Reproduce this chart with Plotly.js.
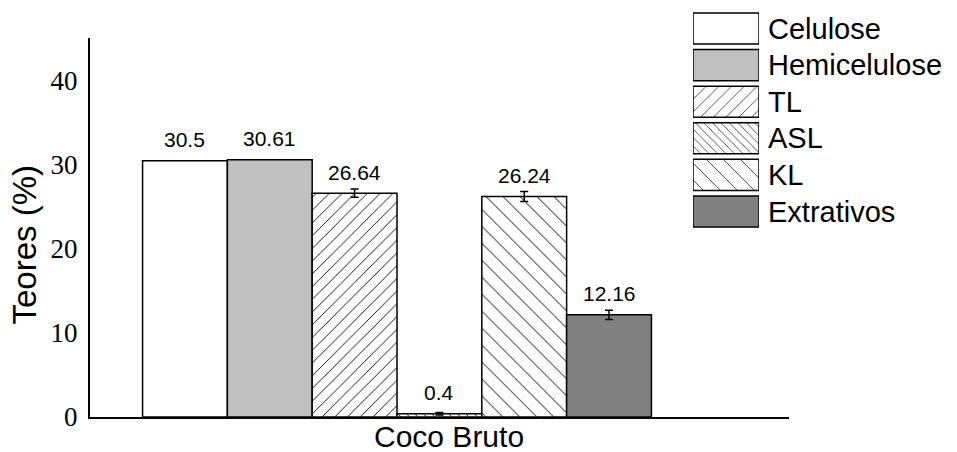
<!DOCTYPE html>
<html>
<head>
<meta charset="utf-8">
<script src="https://cdn.plot.ly/plotly-3.0.1.min.js"></script>
<style>html,body{margin:0;padding:0;background:#fff;}#chart{width:957px;height:452px;}</style>
</head>
<body>
<div id="chart"></div>
<script>
// ---- data ----
const categories = ['Coco Bruto'];
const seriesNames = ['Celulose', 'Hemicelulose', 'TL', 'ASL', 'KL', 'Extrativos'];
const seriesValues = [30.5, 30.61, 26.64, 0.4, 26.24, 12.16];
const seriesErrors = [0, 0, 0.5, 0.15, 0.6, 0.55];
const yTickVals = [0, 10, 20, 30, 40];
const yTickText = ['0', '10', '20', '30', '40'];
const yTitle = 'Teores (%)';

// ---- styles ----
const fillColors = ['#ffffff', '#c0c0c0', '#ffffff', '#ffffff', '#ffffff', '#808080'];
const patShapes = ['', '', '/', '\\', '\\', ''];
const patSizes = [8, 8, 9, 6, 12, 8];
const patSolid = [0.1, 0.1, 0.1, 0.15, 0.08, 0.1];

const sans = 'Liberation Sans, Arial, sans-serif';
const serif = 'Liberation Serif, Times New Roman, serif';

const bargap = 0.272;
const nS = seriesNames.length;
const slot = (1 - bargap) / nS;

const traces = seriesNames.map((name, i) => {
  const t = {
    type: 'bar',
    name: name,
    x: categories,
    y: [seriesValues[i]],
    xaxis: 'x', yaxis: 'y',
    showlegend: false,
    marker: {
      color: fillColors[i],
      line: {color: '#000', width: 1.5},
      pattern: {shape: patShapes[i], size: patSizes[i], solidity: patSolid[i], fgcolor: '#000', fgopacity: 1, bgcolor: fillColors[i], fillmode: 'overlay'}
    },
    hoverinfo: 'name+y'
  };
  if (seriesErrors[i] > 0) {
    t.error_y = {type: 'data', array: [seriesErrors[i]], visible: true, color: '#000', thickness: 1.5, width: 4};
  }
  return t;
});

// legend drawn as a small bar subplot
traces.push({
  type: 'bar',
  orientation: 'h',
  x: seriesNames.map(() => 1),
  y: seriesNames,
  xaxis: 'x2', yaxis: 'y2',
  width: 0.85,
  showlegend: false,
  hoverinfo: 'skip',
  marker: {
    color: fillColors,
    line: {color: '#000', width: 1.5},
    pattern: {shape: patShapes, size: patSizes, solidity: patSolid, fgcolor: '#000', fgopacity: 1, bgcolor: fillColors, fillmode: 'overlay'}
  }
});

const annotations = seriesNames.map((name, i) => ({
  xref: 'x', yref: 'y',
  x: (i - (nS - 1) / 2) * slot,
  y: seriesValues[i],
  text: String(seriesValues[i]),
  showarrow: false,
  yanchor: 'middle',
  yshift: 21,
  font: {family: sans, size: 21, color: '#000'}
}));

// axis titles
annotations.push({
  xref: 'paper', yref: 'paper', x: -0.093, y: 0.4238,
  xanchor: 'center', yanchor: 'middle', textangle: -90,
  text: yTitle, showarrow: false,
  font: {family: sans, size: 33, color: '#000'}
});
annotations.push({
  xref: 'paper', yref: 'paper', x: 0.5136, y: -0.049,
  xanchor: 'center', yanchor: 'middle',
  text: categories[0], showarrow: false,
  font: {family: sans, size: 30, color: '#000'}
});

const layout = {
  width: 957, height: 452,
  margin: {l: 90, r: 168, t: 10, b: 35},
  paper_bgcolor: '#fff', plot_bgcolor: '#fff',
  barmode: 'group', bargap: bargap, bargroupgap: 0,
  showlegend: false,
  xaxis: {
    domain: [0, 1],
    type: 'category',
    range: [-0.4392, 0.5608],
    showline: true, linecolor: '#000', linewidth: 2,
    showgrid: false, zeroline: false, ticks: '', showticklabels: false
  },
  yaxis: {
    domain: [0, 0.9312],
    range: [0, 45.1],
    showline: true, linecolor: '#000', linewidth: 2,
    showgrid: false, zeroline: false, ticks: '',
    tickvals: yTickVals, ticktext: yTickText,
    ticklabelstandoff: 5,
    tickfont: {family: serif, size: 27, color: '#000'}
  },
  xaxis2: {
    domain: [0.8627, 0.9571], anchor: 'y2', range: [0, 1], visible: false, fixedrange: true
  },
  yaxis2: {
    domain: [0.460, 0.9994], anchor: 'x2', type: 'category', range: [5.5, -0.5],
    side: 'right', showline: false, showgrid: false, zeroline: false, ticks: '',
    ticklabelstandoff: 8,
    tickfont: {family: sans, size: 29, color: '#000'}, fixedrange: true
  },
  annotations: annotations
};

Plotly.newPlot('chart', traces, layout, {displayModeBar: false, staticPlot: true});
</script>
</body>
</html>
